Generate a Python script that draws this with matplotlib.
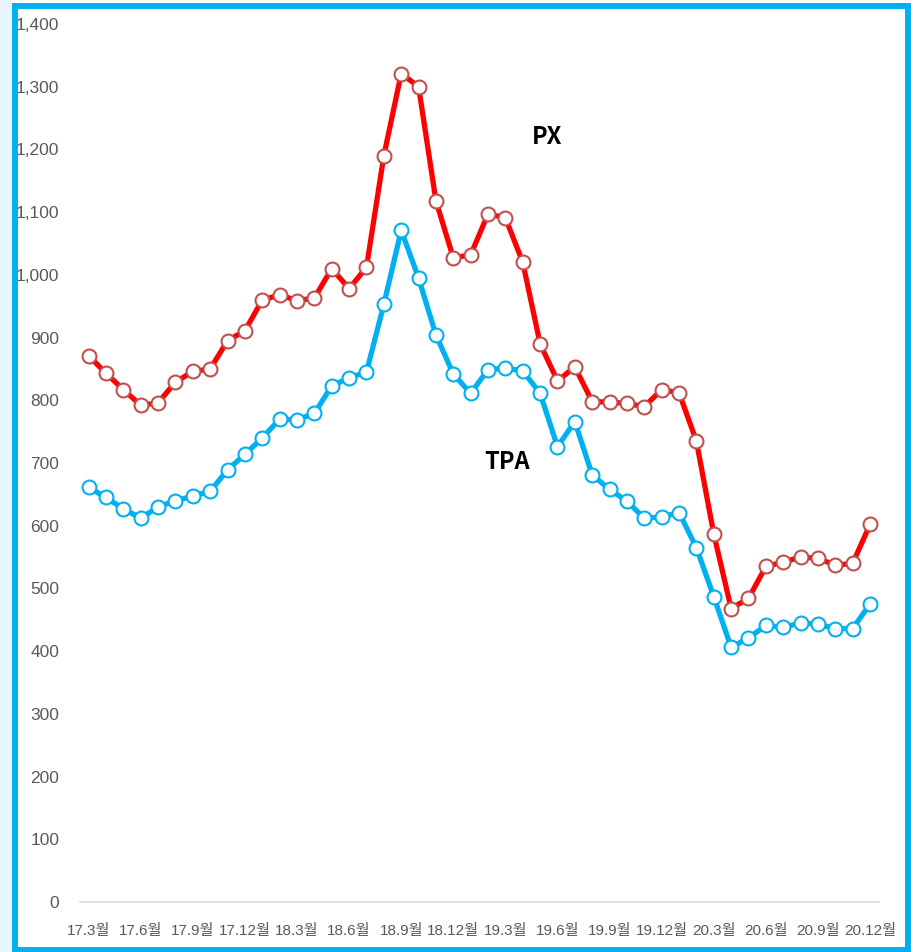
import matplotlib
matplotlib.use("Agg")
import matplotlib.pyplot as plt
from matplotlib.patches import Rectangle

# monthly, 17.3 ~ 20.12
months = [f"{y}.{m}월" for y in range(17, 21) for m in range(1, 13)][2:]

px = [871, 843, 817, 792, 796, 829, 846, 850, 895, 911, 960, 968,
      959, 963, 1010, 978, 1012, 1190, 1321, 1300, 1118, 1027, 1032, 1097,
      1091, 1020, 890, 831, 853, 798, 797, 795, 790, 817, 812, 735,
      587, 468, 484, 535, 542, 550, 548, 537, 540, 602]

tpa = [661, 645, 627, 612, 630, 640, 647, 655, 689, 714, 740, 770,
       769, 779, 823, 836, 845, 953, 1071, 995, 904, 842, 811, 849,
       851, 847, 811, 726, 766, 681, 658, 639, 612, 614, 621, 565,
       487, 406, 421, 441, 438, 445, 443, 436, 436, 475]

y_ticks = list(range(0, 1401, 100))

tick_font = ['Liberation Sans', 'Noto Sans CJK KR', 'DejaVu Sans']

fig = plt.figure(figsize=(9.12, 9.52), dpi=100)
ax = fig.add_axes([0.0877, 0.0525, 0.8758, 0.9223])

x = list(range(len(months)))
ax.plot(x, px, color='#FF0000', lw=3.8, marker='o', ms=10,
        mfc='white', mec='#C0504D', mew=1.5, zorder=3)
ax.plot(x, tpa, color='#00B0F0', lw=3.8, marker='o', ms=10,
        mfc='white', mec='#00B0F0', mew=1.5, zorder=3)

ax.text(26.4, 1220, 'PX', fontsize=17, fontweight='bold',
        family=['Noto Sans CJK KR', 'DejaVu Sans'], ha='center', va='center')
ax.text(24.1, 702, 'TPA', fontsize=17, fontweight='bold',
        family=['Noto Sans CJK KR', 'DejaVu Sans'], ha='center', va='center')

ax.set_xlim(-0.5, len(months) - 0.5)
ax.set_ylim(0, 1400)
ax.set_xticks(x[::3])
ax.set_xticklabels(months[::3], family=tick_font, fontsize=11, color='#595959')
ax.set_yticks(y_ticks)
ax.set_yticklabels([f"{v:,}" for v in y_ticks], family=tick_font,
                   fontsize=12.5, color='#595959')
ax.tick_params(axis='both', length=0)
ax.tick_params(axis='y', pad=15)
ax.tick_params(axis='x', pad=16)

for s in ['top', 'right', 'left']:
    ax.spines[s].set_visible(False)
ax.spines['bottom'].set_color('#D9D9D9')
ax.spines['bottom'].set_linewidth(1.2)

# pale strip on the left + blue frame
fig.add_artist(Rectangle((0, 0), 11 / 912, 1, transform=fig.transFigure,
                         facecolor='#E6F5FC', edgecolor='none', zorder=0))
fig.add_artist(Rectangle((15 / 912, 2 / 952), 893 / 912, 944 / 952,
                         transform=fig.transFigure, fill=False,
                         edgecolor='#00B0F0', lw=4.3, zorder=1))

fig.savefig('out.png', dpi=100)
